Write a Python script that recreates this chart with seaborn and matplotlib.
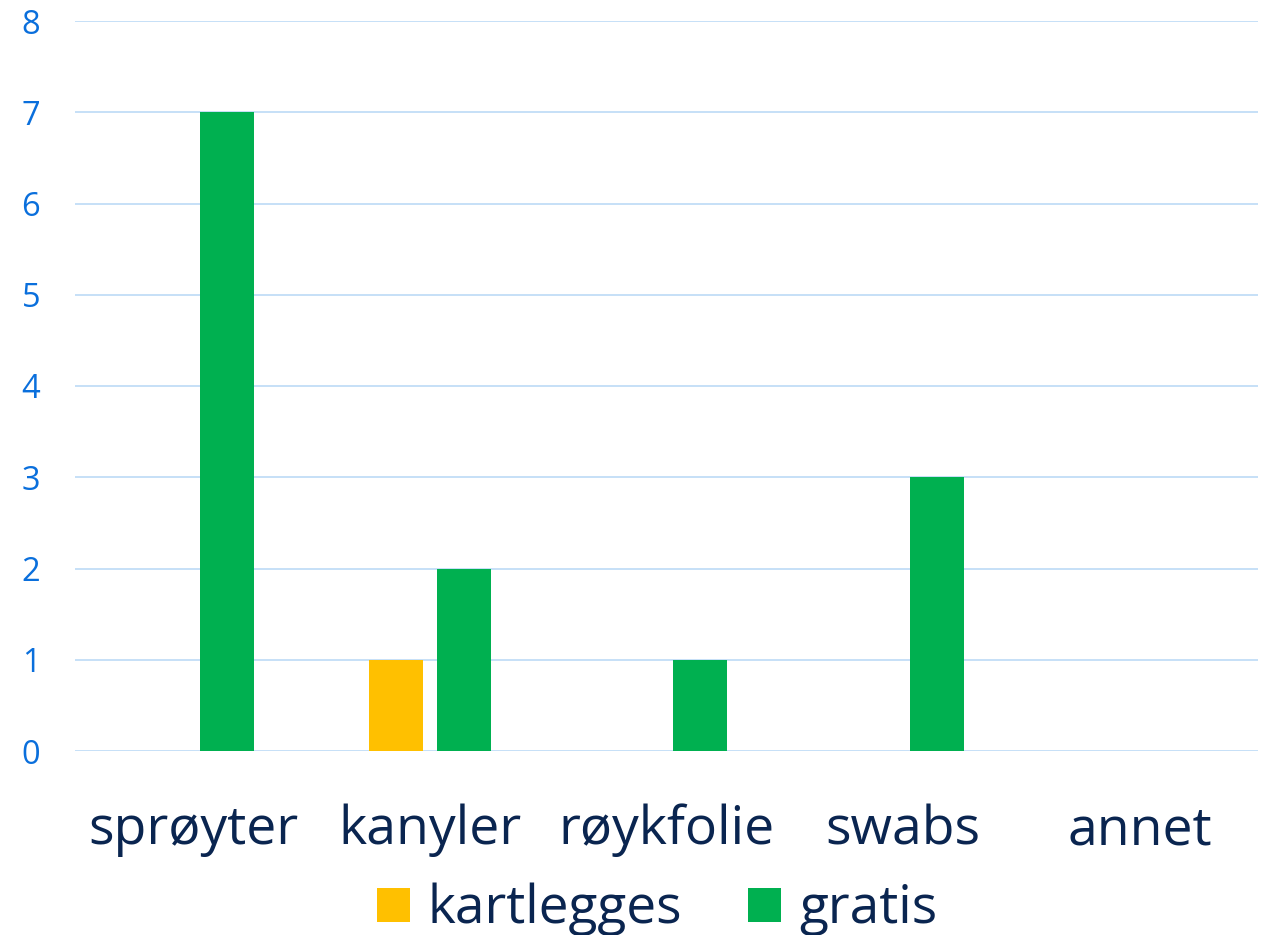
import matplotlib
matplotlib.use("Agg")
import matplotlib.pyplot as plt
import seaborn as sns
import pandas as pd
from matplotlib.patches import Patch

categories = ["sprøyter", "kanyler", "røykfolie", "swabs", "annet"]
series_names = ["kartlegges", "gratis"]
kartlegges = [0, 1, 0, 0, 0]
gratis = [7, 2, 1, 3, 0]
y_ticks = [0, 1, 2, 3, 4, 5, 6, 7, 8]

colors = {"kartlegges": "#FFC000", "gratis": "#00B050"}
text_color = "#0A2550"
tick_color = "#0A6FDC"
grid_color = "#C2DDF7"

df = pd.DataFrame({
    "category": categories * 2,
    "series": [series_names[0]] * len(categories) + [series_names[1]] * len(categories),
    "value": kartlegges + gratis,
})

sns.set_theme(style="white")
plt.rcParams["font.family"] = ["Open Sans", "DejaVu Sans"]

fig = plt.figure(figsize=(12.68, 9.35), dpi=100)
ax = fig.add_axes([75 / 1268, 1 - 751 / 935, (1258 - 75) / 1268, (751 - 21) / 935])

sns.barplot(data=df, x="category", y="value", hue="series", order=categories,
            hue_order=series_names, palette=colors, width=0.57, gap=0.2,
            linewidth=0, edgecolor="none", saturation=1, legend=False, ax=ax, zorder=3)

ax.set_ylim(0, 8)
ax.set_xlim(-0.5, len(categories) - 0.5)
ax.set_yticks(y_ticks)
ax.set_yticklabels([str(t) for t in y_ticks])
ax.yaxis.grid(True, color=grid_color, linewidth=1.3, zorder=0)
ax.xaxis.grid(False)
ax.set_axisbelow(True)
for s in ax.spines.values():
    s.set_visible(False)
ax.set_xlabel("")
ax.set_ylabel("")
ax.tick_params(axis="y", length=0, pad=25, labelsize=23.5, labelcolor=tick_color)
ax.tick_params(axis="x", length=0, pad=38, labelsize=38.5, labelcolor=text_color)

handles = [Patch(facecolor=colors[n], edgecolor="none", label=n) for n in series_names]
leg = fig.legend(handles=handles, loc="upper center", bbox_to_anchor=(657 / 1268, 1 - 883 / 935),
                 ncol=2, frameon=False, fontsize=38.3, handlelength=0.62, handleheight=0.62,
                 handletextpad=0.33, columnspacing=1.25, borderpad=0, borderaxespad=0)
for t in leg.get_texts():
    t.set_color(text_color)

fig.savefig("out.png", dpi=100)
